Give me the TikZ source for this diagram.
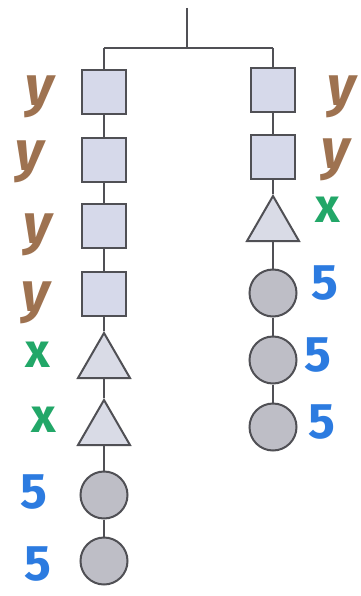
\documentclass[tikz,border=0pt]{standalone}
\usepackage{fontspec}
\setmainfont{Fira Sans}
\usetikzlibrary{shapes.geometric}
\definecolor{ybrown}{HTML}{9E7250}
\definecolor{xgreen}{HTML}{22A768}
\definecolor{fblue}{HTML}{2C7BE0}
\definecolor{sqfill}{HTML}{D6D9EA}
\definecolor{trfill}{HTML}{D9DBE6}
\definecolor{cifill}{HTML}{BEBEC6}
\definecolor{edge}{HTML}{505055}
\tikzset{
  sq/.style={draw=edge, line width=2pt, fill=sqfill, minimum size=44pt, inner sep=0pt},
  tri/.style={draw=edge, line width=2pt, fill=trfill, regular polygon, regular polygon sides=3, minimum size=60pt, inner sep=0pt},
  ci/.style={draw=edge, line width=2pt, fill=cifill, circle, minimum size=47pt, inner sep=0pt},
  wire/.style={draw=edge, line width=2pt},
  ylab/.style={text=ybrown, font=\fontsize{56}{56}\selectfont\bfseries\itshape, inner sep=0pt},
  xlab/.style={text=xgreen, font=\fontsize{48}{48}\selectfont\bfseries, inner sep=0pt},
  flab/.style={text=fblue, font=\fontsize{50}{50}\selectfont\bfseries, inner sep=0pt},
}
\begin{document}
\begin{tikzpicture}[x=1pt,y=-1pt]
\useasboundingbox (0,0) rectangle (360,596);
% left column
\node[sq] (L1) at (104,92) {};
\node[sq] (L2) at (104,160) {};
\node[sq] (L3) at (104,226) {};
\node[sq] (L4) at (104,294) {};
\node[tri] (L5) at (104,363) {};
\node[tri] (L6) at (104,430) {};
\node[ci] (L7) at (104,495) {};
\node[ci] (L8) at (104,561) {};
% right column
\node[sq] (R1) at (273,90) {};
\node[sq] (R2) at (273,157) {};
\node[tri] (R3) at (273,226) {};
\node[ci] (R4) at (273,293) {};
\node[ci] (R5) at (273,360) {};
\node[ci] (R6) at (273,427) {};
% hanger
\coordinate (top) at (187,8);
\coordinate (j) at (187,48);
\coordinate (lc) at (104,48);
\coordinate (rc) at (273,48);
\draw[wire] (top) -- (j);
\draw[wire] (lc) -- (rc);
\draw[wire] (lc) -- (L1);
\draw[wire] (rc) -- (R1);
\foreach \a/\b in {L1/L2,L2/L3,L3/L4,L4/L5,L5/L6,L6/L7,L7/L8,R1/R2,R2/R3,R3/R4,R4/R5,R5/R6}
  \draw[wire] (\a) -- (\b);
% left labels
\node[ylab] (ly1) at (40,97) {y};
\node[ylab] (ly2) at (30,162) {y};
\node[ylab] (ly3) at (38,235) {y};
\node[ylab] (ly4) at (36,303) {y};
\node[xlab] (lx1) at (38,355) {x};
\node[xlab] (lx2) at (44,420) {x};
\node[flab] (lf1) at (34,492) {5};
\node[flab] (lf2) at (38,564) {5};
% right labels
\node[ylab] (ry1) at (342,97) {y};
\node[ylab] (ry2) at (336,160) {y};
\node[xlab] (rx1) at (328,210) {x};
\node[flab] (rf1) at (325,283) {5};
\node[flab] (rf2) at (318,355) {5};
\node[flab] (rf3) at (322,422) {5};
\end{tikzpicture}
\end{document}
